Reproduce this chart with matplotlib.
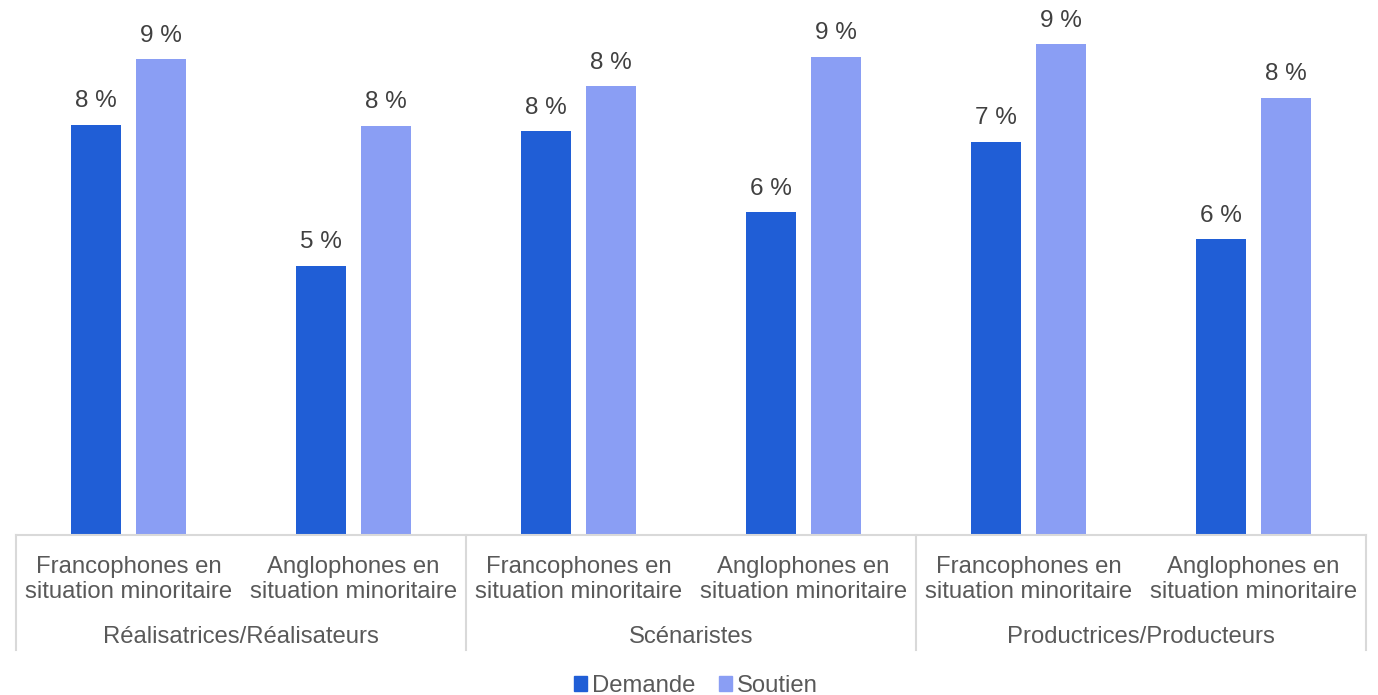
import matplotlib
matplotlib.use("Agg")
import matplotlib.pyplot as plt
from matplotlib.patches import Patch
import numpy as np

plt.rcParams['font.family'] = ['Liberation Sans', 'DejaVu Sans']

groups = ["Réalisatrices/Réalisateurs", "Scénaristes", "Productrices/Producteurs"]
subcats = ["Francophones en\nsituation minoritaire", "Anglophones en\nsituation minoritaire"]
series_names = ["Demande", "Soutien"]
demande = [7.74, 5.08, 7.62, 6.09, 7.42, 5.58]
soutien = [8.98, 7.72, 8.47, 9.02, 9.26, 8.25]

colors = ["#205ED6", "#8A9EF4"]
label_color = "#404040"
tick_color = "#595959"
line_color = "#D9D9D9"
fs = 17.2

fig = plt.figure(figsize=(13.78, 6.95), dpi=100)
ax = fig.add_axes([16/1378, 1-535/695, 1350/1378, 530/695])

n = len(groups) * len(subcats)
x = np.arange(n)
w = 0.222
off = 0.143
b1 = ax.bar(x - off, demande, w, color=colors[0], label=series_names[0])
b2 = ax.bar(x + off, soutien, w, color=colors[1], label=series_names[1])

for bars, vals in ((b1, demande), (b2, soutien)):
    for rect, v in zip(bars, vals):
        ax.annotate(f"{v:.0f} %", (rect.get_x() + rect.get_width()/2, v),
                    xytext=(0, 9), textcoords="offset points", ha="center", va="bottom",
                    fontsize=17.5, color=label_color)

ax.set_xlim(-0.5, n - 0.5)
ax.set_ylim(0, 10)
for s in ax.spines.values():
    s.set_visible(False)
ax.set_yticks([])
ax.set_xticks([])
ax.axhline(0, color=line_color, lw=1.5, clip_on=False)

trans = ax.get_xaxis_transform()
px = 1 / 530  # axes fraction per pixel vertically
for i in range(n):
    ax.text(x[i], -(579.5 - 535) * px, subcats[i % len(subcats)],
            transform=trans, ha="center", va="center", fontsize=fs, color=tick_color,
            linespacing=1.17)
for g, name in enumerate(groups):
    cx = g * len(subcats) + (len(subcats) - 1) / 2
    ax.text(cx, -(637 - 535) * px, name, transform=trans, ha="center", va="center",
            fontsize=fs, color=tick_color)
for b in range(len(groups) + 1):
    xb = b * len(subcats) - 0.5
    ax.plot([xb, xb], [0, -(650 - 535) * px], transform=trans, color=line_color,
            lw=1.5, clip_on=False)

handles = [Patch(color=colors[0], label=series_names[0]),
           Patch(color=colors[1], label=series_names[1])]
leg = fig.legend(handles=handles, loc="center", bbox_to_anchor=(0.5 + 7/1378, 1 - 686/695), ncol=2,
                 frameon=False, fontsize=fs, handlelength=0.55, handleheight=0.55,
                 handletextpad=0.2, columnspacing=1.0, labelcolor=tick_color)

fig.savefig("out.png", dpi=100)
